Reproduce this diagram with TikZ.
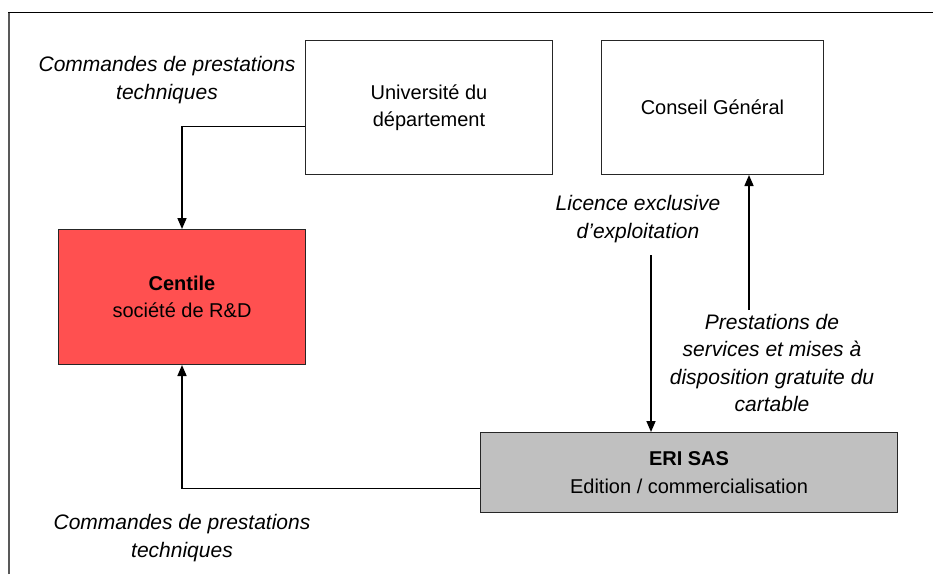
\documentclass[tikz,border=0pt]{standalone}
\usepackage{fontspec}
\setmainfont{Liberation Sans}
\usetikzlibrary{arrows.meta}
\definecolor{centred}{RGB}{255,80,80}
\definecolor{erigray}{RGB}{192,192,192}
\tikzset{
  txt/.style={font=\fontsize{20}{27.5}\selectfont, align=center, inner sep=0pt},
  lbl/.style={txt, font=\fontsize{21}{27.5}\selectfont\itshape},
  boxx/.style={draw=black!85, line width=1pt, txt, anchor=north west},
  arr/.style={line width=1.6pt, -{Triangle[length=11pt,width=9pt]}},
}
\begin{document}
\begin{tikzpicture}[x=1pt,y=-1pt]
\useasboundingbox (0,0) rectangle (933,574);
% frame
\draw[line width=1.5pt, black!65] (9,574) -- (9,12.5);
\draw[line width=1.5pt, black] (8.3,12.5) -- (933,12.5);
% boxes
\node[boxx, minimum width=247pt, minimum height=134pt, fill=white] (univ) at (305,40) {Université du\\département};
\node[boxx, minimum width=222pt, minimum height=134pt, fill=white] (conseil) at (601,40) {Conseil Général};
\node[boxx, minimum width=247pt, minimum height=135pt, fill=centred] (centile) at (58,229) {\bfseries Centile\\société de R\&D};
\node[boxx, minimum width=417pt, minimum height=80pt, fill=erigray] (eri) at (480,432) {\bfseries ERI SAS\\Edition / commercialisation};
% labels
\node[lbl] (lab1) at (167,80) {Commandes de prestations\\techniques};
\node[lbl] (lab2) at (638,219) {Licence exclusive\\d’exploitation};
\node[lbl] (lab3) at (772,363) {Prestations de\\services et mises à\\disposition gratuite du\\cartable};
\node[lbl] (lab4) at (182,538) {Commandes de prestations\\techniques};
% connectors
\coordinate (c3) at (651,255);
\coordinate (c4) at (749,310);
\draw[arr] ([yshift=-19pt]univ.west) -| (centile.north);
\draw[arr] ([yshift=-16pt]eri.west) -| (centile.south);
\draw[arr] (c3) -- (c3 |- eri.north);
\draw[arr] (c4) -- (c4 |- conseil.south);
\end{tikzpicture}
\end{document}
